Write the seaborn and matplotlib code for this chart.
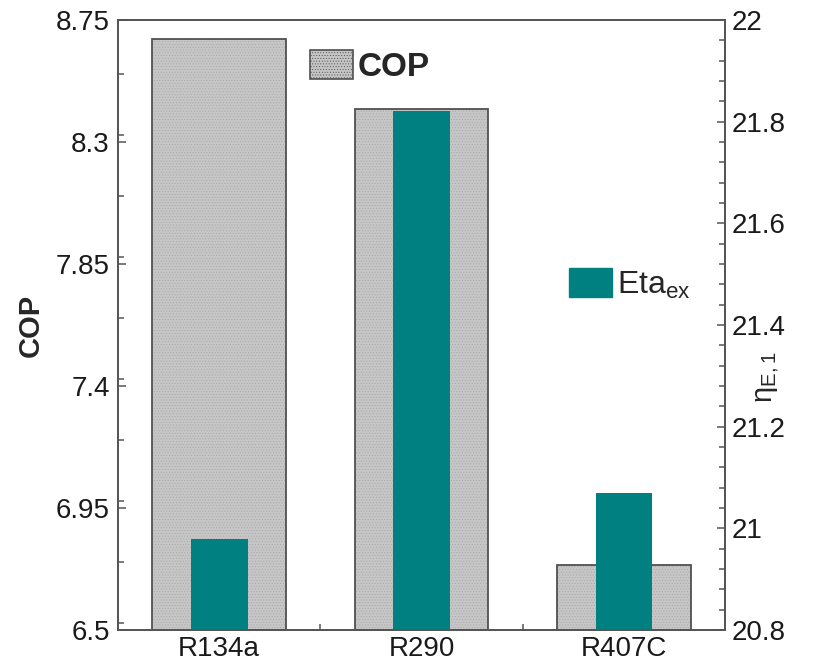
import matplotlib
matplotlib.use("Agg")
import matplotlib.pyplot as plt
import seaborn as sns
import pandas as pd
from matplotlib.patches import Patch
from matplotlib.ticker import MultipleLocator, FixedLocator

# data
refrigerants = ["R134a", "R290", "R407C"]
cop = [8.68, 8.42, 6.74]
eta_ex = [20.98, 21.82, 21.07]

cop_ticks = [6.5, 6.95, 7.4, 7.85, 8.3, 8.75]
cop_labels = ["6.5", "6.95", "7.4", "7.85", "8.3", "8.75"]
eta_ticks = [20.8, 21.0, 21.2, 21.4, 21.6, 21.8, 22.0]
eta_labels = ["20.8", "21", "21.2", "21.4", "21.6", "21.8", "22"]

GRAY = "#c6c6c6"
TEAL = "#008080"
EDGE = "#505050"

sns.set_style("ticks")
plt.rcParams["font.family"] = ["Liberation Sans", "DejaVu Sans"]
plt.rcParams["mathtext.fontset"] = "custom"
plt.rcParams["mathtext.rm"] = "Liberation Sans"
plt.rcParams["mathtext.it"] = "Liberation Sans"
plt.rcParams["hatch.linewidth"] = 0.4

df = pd.DataFrame({"ref": refrigerants, "COP": cop, "Eta": eta_ex})

fig = plt.figure(figsize=(8.16, 6.66), dpi=100)
ax = fig.add_axes([0.1446, 0.054, 0.744, 0.916])

# COP bars: hatched gray fill, then a dark outline on top
sns.barplot(data=df, x="ref", y="COP", ax=ax, color=GRAY, width=0.66,
            saturation=1, linewidth=0, edgecolor="#a9a9a9")
for p in ax.patches:
    p.set_hatch("......")
sns.barplot(data=df, x="ref", y="COP", ax=ax, fill=False, color=EDGE,
            width=0.66, linewidth=1.3)

ax.set_ylim(6.5, 8.75)
ax.set_xlim(-0.5, 2.5)
ax.set_yticks(cop_ticks)
ax.set_yticklabels(cop_labels)
ax.yaxis.set_minor_locator(MultipleLocator(0.225))
ax.xaxis.set_minor_locator(FixedLocator([0.5, 1.5]))
ax.set_xlabel("")
ax.set_ylabel("COP", fontsize=21, fontweight="bold")
ax.yaxis.set_label_coords(-0.12, 0.5)

ax2 = ax.twinx()
sns.barplot(data=df, x="ref", y="Eta", ax=ax2, color=TEAL, width=0.28,
            saturation=1, linewidth=0)
ax2.set_ylim(20.8, 22.0)
ax2.set_xlim(-0.5, 2.5)
ax2.set_yticks(eta_ticks)
ax2.set_yticklabels(eta_labels)
ax2.yaxis.set_minor_locator(MultipleLocator(0.04))
ax2.set_ylabel(r"$\mathregular{\eta_{E,1}}$", fontsize=21)
# the label sits inside the tick-label column, between 21.2 and 21.4
ax2.yaxis.set_label_coords(1.047, 0.415)

for a in (ax, ax2):
    for s in a.spines.values():
        s.set_visible(True)
        s.set_color("#555555")
        s.set_linewidth(1.3)
    a.tick_params(axis="both", which="both", direction="in", colors="#555555",
                  labelcolor="#1a1a1a", labelsize=20, width=1.1)
    a.tick_params(which="major", length=6)
    a.tick_params(which="minor", length=4)
ax.tick_params(axis="x", which="major", length=0, pad=4)
ax.tick_params(axis="y", which="both", left=True, right=False, pad=6)
ax2.tick_params(axis="y", which="both", left=False, right=True, pad=5)
ax2.tick_params(axis="x", which="both", bottom=False, top=False)

# separate legends like the original
cop_handle = Patch(facecolor=GRAY, edgecolor=EDGE, hatch="......", linewidth=1.2)
eta_handle = Patch(facecolor=TEAL, edgecolor=TEAL)
leg1 = ax2.legend(handles=[cop_handle], labels=["COP"], loc="upper left",
                  bbox_to_anchor=(0.294, 0.973), frameon=False,
                  prop={"size": 24, "weight": "bold"}, handlelength=1.3,
                  handleheight=0.95, handletextpad=0.12, borderaxespad=0)
ax2.add_artist(leg1)
ax2.legend(handles=[eta_handle], labels=[r"Eta$\mathregular{_{ex}}$"],
           loc="upper left", bbox_to_anchor=(0.722, 0.614), frameon=False,
           prop={"size": 23}, handlelength=1.35, handleheight=1.0,
           handletextpad=0.15, borderaxespad=0)

fig.savefig("out.png", dpi=100)
